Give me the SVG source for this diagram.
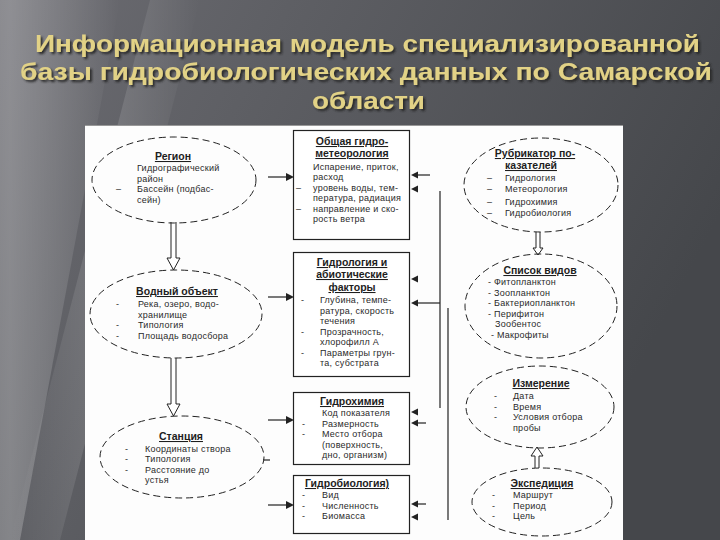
<svg xmlns="http://www.w3.org/2000/svg" width="720" height="540" viewBox="0 0 720 540">
  <defs>
    <linearGradient id="bg" x1="0" y1="0" x2="1" y2="0.4">
      <stop offset="0" stop-color="#6c6c72"/>
      <stop offset="0.35" stop-color="#5e5f64"/>
      <stop offset="1" stop-color="#45474b"/>
    </linearGradient>
    <linearGradient id="streak" x1="0" y1="0" x2="1" y2="0">
      <stop offset="0" stop-color="#ffffff" stop-opacity="0"/>
      <stop offset="0.5" stop-color="#ffffff" stop-opacity="0.24"/>
      <stop offset="1" stop-color="#ffffff" stop-opacity="0"/>
    </linearGradient>
    <filter id="shadow" x="-5%" y="-30%" width="110%" height="160%">
      <feDropShadow dx="2" dy="2" stdDeviation="0.8" flood-color="#222" flood-opacity="0.9"/>
    </filter>
    <style>
      .title { font-family: "Liberation Sans", Arial, sans-serif; font-weight: bold; font-size: 24px; text-anchor: middle; fill: #e2d286; }
      .hd { font-family: "Liberation Sans", Arial, sans-serif; font-weight: bold; font-size: 10.5px; text-decoration: underline; text-anchor: middle; fill: #1e1e1e; }
      .it { font-family: "Liberation Sans", Arial, sans-serif; font-size: 9px; letter-spacing: 0.25px; fill: #2a2a2a; }
      .ell { fill: none; stroke: #222; stroke-width: 1; stroke-dasharray: 7 4; }
      .box { fill: #fff; stroke: #222; stroke-width: 1.2; }
      .ln { stroke: #222; stroke-width: 1.2; fill: none; }
      .ah { fill: #222; }
      .hol { fill: #fff; stroke: #222; stroke-width: 1; }
    </style>
  </defs>

  <!-- background -->
  <rect x="0" y="0" width="720" height="540" fill="url(#bg)"/>
  <polygon points="0,0 120,0 20,540 -100,540" fill="url(#streak)"/>
  <polygon points="150,0 200,0 60,540 10,540" fill="url(#streak)" opacity="0.6"/>

  <!-- title -->
  <g id="title" filter="url(#shadow)">
    <text class="title" x="367.5" y="52" textLength="665" lengthAdjust="spacingAndGlyphs">Информационная модель специализированной</text>
    <text class="title" x="366" y="80" textLength="692" lengthAdjust="spacingAndGlyphs">базы гидробиологических данных по Самарской</text>
    <text class="title" x="368.5" y="109" textLength="113" lengthAdjust="spacingAndGlyphs">области</text>
  </g>

  <!-- white panel -->
  <rect x="85" y="125" width="538" height="415" fill="#fdfdfd"/>
  <line x1="85" y1="125.5" x2="623" y2="125.5" stroke="#999" stroke-width="1"/>

  <!-- connectors -->
  <g id="connectors">
    <line class="ln" x1="268" y1="177" x2="287" y2="177"/>
    <polygon class="ah" points="286,173 294,177 286,181"/>
    <line class="ln" x1="268" y1="297" x2="287" y2="297"/>
    <polygon class="ah" points="286,293 294,297 286,301"/>
    <line class="ln" x1="268" y1="420" x2="287" y2="420"/>
    <polygon class="ah" points="286,416 294,420 286,424"/>
    <line class="ln" x1="268" y1="505" x2="287" y2="505"/>
    <polygon class="ah" points="286,501 294,505 286,509"/>
    <line class="ln" x1="263" y1="460" x2="270" y2="460"/>

    <line class="ln" x1="416" y1="175" x2="430" y2="175"/>
    <polygon class="ah" points="418,171.5 411,175 418,178.5"/>
    <polygon class="ah" points="418,185.5 411,189 418,192.5"/>
    <polygon class="ah" points="418,275.5 411,279 418,282.5"/>
    <line class="ln" x1="416" y1="303" x2="440" y2="303"/>
    <polygon class="ah" points="418,299.5 411,303 418,306.5"/>
    <polygon class="ah" points="418,408.5 411,412 418,415.5"/>
    <line class="ln" x1="416" y1="423" x2="426" y2="423"/>
    <polygon class="ah" points="418,419.5 411,423 418,426.5"/>
    <line class="ln" x1="416" y1="504" x2="426" y2="504"/>
    <polygon class="ah" points="418,500.5 411,504 418,507.5"/>
    <polygon class="ah" points="418,513.5 411,517 418,520.5"/>
    <line class="ln" x1="440" y1="191" x2="440" y2="408"/>
    <line class="ln" x1="448" y1="308" x2="448" y2="520"/>

    <path class="hol" d="M171,222 V258 H167 L173.5,270 L180,258 H176 V222"/>
    <path class="hol" d="M171,358 V404 H167 L173.5,416 L180,404 H176 V358"/>
    <path class="hol" d="M536,232 V248 H533 L538,255 L543,248 H540 V232"/>
    <path class="hol" d="M535,468 V456 H531 L537,447 L543,456 H539 V468"/>
  </g>

  <!-- left ellipses -->
  <g id="region">
    <ellipse class="ell" cx="174" cy="180" rx="82" ry="43"/>
    <text class="hd" x="173" y="160">Регион</text>
    <text class="it"><tspan x="137" y="171">Гидрографический</tspan><tspan x="137" y="181.5">район</tspan><tspan x="116" y="192">–</tspan><tspan x="137" y="192">Бассейн (подбас-</tspan><tspan x="137" y="202.5">сейн)</tspan></text>
  </g>

  <g id="water-object">
    <ellipse class="ell" cx="176" cy="314" rx="86" ry="44"/>
    <text class="hd" x="177" y="295">Водный объект</text>
    <text class="it"><tspan x="116" y="307">-</tspan><tspan x="138" y="307">Река, озеро, водо-</tspan><tspan x="138" y="317.5">хранилище</tspan><tspan x="116" y="328">-</tspan><tspan x="138" y="328">Типология</tspan><tspan x="116" y="338.5">-</tspan><tspan x="138" y="338.5">Площадь водосбора</tspan></text>
  </g>

  <g id="station">
    <ellipse class="ell" cx="182" cy="457" rx="82" ry="41"/>
    <text class="hd" x="181" y="440">Станция</text>
    <text class="it"><tspan x="125" y="451.5">-</tspan><tspan x="145" y="451.5">Координаты створа</tspan><tspan x="125" y="462">-</tspan><tspan x="145" y="462">Типология</tspan><tspan x="125" y="472.5">-</tspan><tspan x="145" y="472.5">Расстояние до</tspan><tspan x="145" y="483">устья</tspan></text>
  </g>

  <!-- middle boxes -->
  <g id="meteo">
    <rect class="box" x="293.5" y="130.5" width="116" height="109"/>
    <text class="hd" x="352" y="145">Общая гидро-</text>
    <text class="hd" x="352" y="157">метеорология</text>
    <text class="it"><tspan x="313" y="169.5">Испарение, приток,</tspan><tspan x="313" y="180">расход</tspan><tspan x="296" y="190.5">–</tspan><tspan x="313" y="190.5">уровень воды, тем-</tspan><tspan x="313" y="201">пература, радиация</tspan><tspan x="296" y="211.5">–</tspan><tspan x="313" y="211.5">направление и ско-</tspan><tspan x="313" y="222">рость ветра</tspan></text>
  </g>

  <g id="hydrology">
    <rect class="box" x="293.5" y="252.5" width="116" height="124"/>
    <text class="hd" x="352" y="266">Гидрология и</text>
    <text class="hd" x="352" y="278">абиотические</text>
    <text class="hd" x="352" y="291">факторы</text>
    <text class="it"><tspan x="301" y="303">-</tspan><tspan x="320" y="303">Глубина, темпе-</tspan><tspan x="320" y="313.5">ратура, скорость</tspan><tspan x="320" y="324">течения</tspan><tspan x="301" y="334.5">-</tspan><tspan x="320" y="334.5">Прозрачность,</tspan><tspan x="320" y="345">хлорофилл А</tspan><tspan x="301" y="355.5">-</tspan><tspan x="320" y="355.5">Параметры грун-</tspan><tspan x="320" y="366">та, субстрата</tspan></text>
  </g>

  <g id="hydrochem">
    <rect class="box" x="293.5" y="392.5" width="116" height="72"/>
    <text class="hd" x="352" y="405">Гидрохимия</text>
    <text class="it"><tspan x="322" y="416">Код показателя</tspan><tspan x="302" y="426.5">-</tspan><tspan x="322" y="426.5">Размерность</tspan><tspan x="302" y="437">-</tspan><tspan x="322" y="437">Место отбора</tspan><tspan x="322" y="447.5">(поверхность,</tspan><tspan x="322" y="458">дно, организм)</tspan></text>
  </g>

  <g id="hydrobio">
    <rect class="box" x="293.5" y="475.5" width="116" height="58"/>
    <text class="hd" x="347" y="487">Гидробиология)</text>
    <text class="it"><tspan x="302" y="498">-</tspan><tspan x="322" y="498">Вид</tspan><tspan x="302" y="508.5">-</tspan><tspan x="322" y="508.5">Численность</tspan><tspan x="302" y="519">-</tspan><tspan x="322" y="519">Биомасса</tspan></text>
  </g>

  <!-- right ellipses -->
  <g id="rubricator">
    <ellipse class="ell" cx="541" cy="185" rx="77" ry="47"/>
    <text class="hd" x="535" y="157">Рубрикатор по-</text>
    <text class="hd" x="531" y="169">казателей</text>
    <text class="it"><tspan x="487" y="181">–</tspan><tspan x="505" y="181">Гидрология</tspan><tspan x="487" y="192">–</tspan><tspan x="505" y="192">Метеорология</tspan><tspan x="487" y="205">–</tspan><tspan x="505" y="205">Гидрохимия</tspan><tspan x="487" y="216">–</tspan><tspan x="505" y="216">Гидробиология</tspan></text>
  </g>

  <g id="species">
    <ellipse class="ell" cx="541" cy="306" rx="76" ry="52"/>
    <text class="hd" x="540" y="274">Список видов</text>
    <text class="it"><tspan x="488" y="285">- Фитопланктон</tspan><tspan x="488" y="295.5">- Зоопланктон</tspan><tspan x="488" y="306">- Бактериопланктон</tspan><tspan x="488" y="316.5">- Перифитон</tspan><tspan x="495" y="327">Зообентос</tspan><tspan x="491" y="337.5">-  Макрофиты</tspan></text>
  </g>

  <g id="measurement">
    <ellipse class="ell" cx="540" cy="407" rx="74" ry="41"/>
    <text class="hd" x="541" y="387">Измерение</text>
    <text class="it"><tspan x="494" y="399">-</tspan><tspan x="513" y="399">Дата</tspan><tspan x="494" y="409.5">-</tspan><tspan x="513" y="409.5">Время</tspan><tspan x="494" y="420">-</tspan><tspan x="513" y="420">Условия отбора</tspan><tspan x="513" y="430.5">пробы</tspan></text>
  </g>

  <g id="expedition">
    <ellipse class="ell" cx="542" cy="502" rx="70" ry="34"/>
    <text class="hd" x="542" y="487">Экспедиция</text>
    <text class="it"><tspan x="492" y="498">-</tspan><tspan x="513" y="498">Маршрут</tspan><tspan x="492" y="508.5">-</tspan><tspan x="513" y="508.5">Период</tspan><tspan x="492" y="519">-</tspan><tspan x="513" y="519">Цель</tspan></text>
  </g>
</svg>
